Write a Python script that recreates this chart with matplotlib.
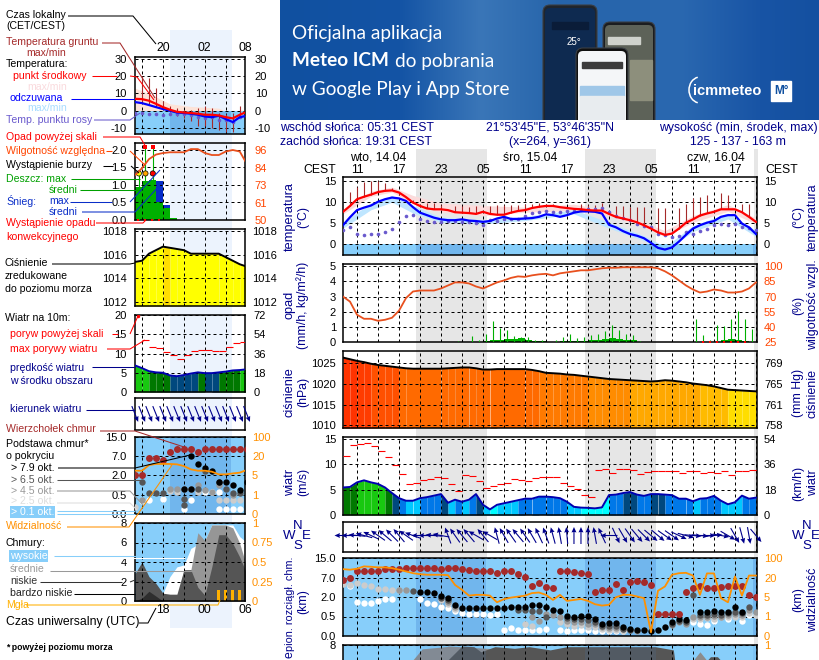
import matplotlib
matplotlib.use("Agg")
import matplotlib.pyplot as plt
import numpy as np
from matplotlib.patches import FancyBboxPatch, Rectangle, Arc

plt.rcParams['font.family'] = ['Liberation Sans', 'DejaVu Sans']

W, H = 820, 660
LS = 7.6   # labels of the left column
HS = 8.8   # header and side titles
TS = 8.0   # tick labels

NAVY = '#00008b'
RED = '#ff0000'
BROWN = '#a52a2a'
HUM = '#e8501e'
HUMTXT = '#ff4500'
ORANGE = '#ff9000'
SKY = '#87cefa'
NIGHT = '#3f7fd0'

### right block, hourly from 09:00 on 14.04 ###
temp_mid = [7.7, 9.1, 10.7, 11.3, 11.8, 12.4, 12.7, 12.8, 12.3, 11.2, 9.9, 9.1, 8.5, 8.3, 8.3, 8.1, 7.6, 7.5, 7.4, 7.2,
            7.7, 7.2, 7.0, 7.0, 7.5, 7.9, 8.1, 8.6, 8.9, 9.1, 9.1, 8.8, 8.6, 8.4, 8.3, 8.1, 8.0, 8.0, 7.2, 6.5,
            6.1, 5.7, 5.2, 4.5, 3.7, 2.8, 2.2, 2.5, 3.7, 5.1, 5.9, 6.8, 7.3, 7.7, 8.3, 8.3, 8.3, 7.6, 6.5, 5.3]
temp_feel = [4.5, 6.4, 8.1, 8.7, 9.2, 10.1, 10.7, 11.1, 10.9, 10.3, 8.8, 7.5, 6.9, 6.3, 5.9, 5.7, 5.7, 5.9, 5.6, 5.5,
             5.3, 5.5, 6.1, 6.5, 6.0, 6.0, 6.1, 6.2, 6.5, 7.1, 6.9, 6.5, 6.9, 7.5, 7.8, 7.8, 7.7, 7.3, 4.6, 4.0,
             3.1, 2.4, 2.0, 1.4, 0.3, -0.9, -1.3, -0.8, 0.6, 2.2, 3.7, 4.5, 5.1, 5.5, 6.5, 6.9, 6.9, 4.9, 4.0, 2.4]
temp_dew = [3.3, 4.0, 2.4, 2.1, 2.4, 2.4, 2.9, 3.5, 5.3, 6.8, 7.0, 6.0, 5.5, 5.3, 5.3, 5.6, 5.5, 5.3, 5.2, 5.1,
            4.6, 5.7, 5.6, 6.0, 6.0, 6.1, 6.7, 7.4, 7.7, 7.8, 7.7, 7.6, 8.0, 8.0, 8.1, 8.3, 8.3, 8.5, 7.6, 6.7,
            6.3, 5.7, 4.9, 4.3, 4.0, 2.5, 2.1, 1.6, 1.9, 2.8, 2.5, 3.1, 3.7, 4.5, 4.7, 4.6, 4.9, 4.1, 3.9, 3.3]
ground_max = [np.nan, 12.5, 13.5, 14.7, 15.0, 15.0, 14.5, 13.3, 11.7, np.nan, 10.5, np.nan, 9.7, 9.7, 9.3, np.nan, 9.0, 9.0, 8.8, 9.0,
              np.nan, 9.0, 9.3, 9.3, 9.4, 9.4, 9.6, 9.6, 9.7, 9.6, 9.5, np.nan, np.nan, np.nan, 9.5, 9.3, 9.3, 9.7, np.nan, 9.0,
              9.0, 8.8, 8.8, 8.8, np.nan, 8.5, 8.5, np.nan, 8.5, 9.6, 10.9, 11.3, 11.6, np.nan, 12.1, 11.7, np.nan, 9.6, 9.6, np.nan]
band_hours = [0, 4, 7, 10, 14, 20, 26, 33, 38, 43, 46, 50, 55, 59]
pink_hi = [8.3, 12.6, 13.6, 11.6, 9.8, 9.2, 8.8, 9.5, 8.0, 5.2, 3.2, 6.8, 9.4, 6.2]
pink_lo = [7.2, 11.4, 12.4, 9.6, 7.6, 6.8, 7.6, 8.0, 6.8, 4.0, 1.8, 5.2, 7.8, 4.8]
ice_hi = [5.2, 9.8, 11.6, 9.2, 6.4, 5.8, 6.6, 8.2, 5.2, 2.0, -0.6, 4.4, 7.4, 3.2]
ice_lo = [3.8, 8.2, 10.0, 7.4, 5.2, 4.8, 5.6, 7.2, 3.8, 0.8, -1.8, 3.0, 6.0, 1.8]

humidity = [70, 65, 52, 48, 48, 46, 47, 49, 56, 68.5, 75, 76, 76, 76, 78, 81, 84, 84, 83, 80,
            78, 81, 84, 86, 88.5, 90, 89.5, 91, 92, 92.5, 91, 93, 94, 95, 96, 96, 97, 98, 98.5, 98.5,
            99, 99, 99, 99, 99, 98, 95, 91, 86, 81, 77, 74, 75, 77, 76, 74, 74, 75, 78, 84]
rain_max = [0, 0, 0, 0, 0, 0, 0, 0, 0, 0, 0, 0, 0, 0, 0, 0, 0.05, 0, 0.4, 0.1,
            0.5, 1.4, 0.9, 0.8, 0.4, 0.35, 0.3, 0.15, 0.1, 0, 0.1, 0.35, 0.5, 0.25, 0.3, 0.45, 0.55, 0.75, 1.1, 0.8,
            0.5, 0.45, 0.05, 0, 0, 0, 0, 0, 0, 0, 1.5, 0.45, 0.1, 1.1, 1.05, 1.55, 2.05, 1.5, 0.85, 0]
rain_mean = [0, 0, 0, 0, 0, 0, 0, 0, 0, 0, 0, 0, 0, 0, 0, 0, 0, 0, 0, 0,
             0.05, 0.1, 0.1, 0.2, 0.2, 0.25, 0.1, 0.05, 0.05, 0.02, 0.03, 0.05, 0.08, 0.08, 0.08, 0.12, 0.15, 0.2, 0.25, 0.2,
             0.12, 0.1, 0.02, 0, 0, 0, 0, 0, 0, 0, 0, 0, 0, 0, 0.1, 0.18, 0.15, 0.05, 0, 0]
conv_hours = [51.5, 52.5, 53.5, 54.5, 55.5, 56.5, 57.5]

pressure = [1026.4, 1026.0, 1025.6, 1025.3, 1024.9, 1024.6, 1024.4, 1024.2, 1024.0, 1023.8, 1023.7, 1023.7, 1023.7, 1023.7, 1023.7, 1023.8, 1023.9, 1024.0, 1024.0, 1023.8,
            1023.5, 1023.5, 1023.6, 1023.6, 1023.6, 1023.6, 1023.6, 1023.4, 1023.1, 1022.7, 1022.6, 1022.5, 1022.3, 1022.2, 1022.0, 1021.8, 1021.6, 1021.4, 1021.2, 1021.1,
            1021.0, 1020.9, 1020.8, 1020.7, 1020.6, 1020.7, 1020.9, 1020.8, 1020.6, 1020.4, 1020.1, 1019.9, 1019.7, 1019.4, 1019.0, 1018.6, 1018.5, 1018.4, 1018.3, 1018.2]

wind = [5.4, 5.5, 6.4, 6.8, 6.4, 6.1, 5.4, 4.3, 3.3, 2.8, 2.8, 3.3, 3.5, 3.8, 4.1, 2.4, 3.0, 2.6, 3.0, 4.1,
        2.0, 1.1, 2.0, 2.3, 2.6, 2.9, 3.2, 3.2, 3.6, 3.6, 3.5, 3.3, 2.6, 1.6, 1.45, 1.4, 1.3, 1.5, 3.9, 4.0,
        4.3, 4.5, 4.0, 3.75, 4.1, 4.1, 4.0, 3.9, 3.2, 3.2, 2.7, 3.2, 3.3, 3.75, 2.8, 2.1, 2.5, 3.8, 3.2, 3.4]
gust = [11.5, 13.8, 13.9, 14.1, 13.6, 12.6, 11.3, 9.8, 8.0, 6.0, 6.2, 6.8, 7.1, 7.4, 7.2, 6.0, 4.7, 7.9, 7.6, 6.7,
        5.3, 5.6, 6.1, 6.3, 7.0, 6.8, 6.6, 7.2, 7.5, 7.4, 7.4, 6.3, 5.7, 5.1, 3.9, 3.6, 8.9, 9.1, 8.2, 9.1,
        9.1, 8.8, 8.1, 8.5, 8.7, 8.7, 8.7, 8.6, 8.3, 8.7, 8.7, 8.3, 8.4, 8.3, 8.7, 7.9, 8.7, 8.6, 8.8, 8.8]
wind_dir = [180, 180, 175, 165, 155, 145, 140, 135, 130, 145, 160, 180, 180, 175, 170, 110, 125, 130, 130, 150,
            130, 150, 105, 120, 125, 130, 125, 120, 115, 110, 105, 100, 95, 90, 90, 90, 100, 115, 180, 295,
            300, 305, 310, 315, 320, 320, 325, 325, 335, 345, 355, 355, 0, 5, 350, 330, 300, 285, 280, 310]

# cloud levels are in tick steps of the uneven scale (0.0, 0.5, 2.0, 7.0, 15.0)
top_lvl = [2.88, 3.0, 3.31, 3.34, 3.34, 3.31, 3.45, 3.45, 3.45, 3.48, 3.48, 3.48, 3.48, 3.48, 3.45, 3.48, 3.48, 3.45, 3.4, 3.34,
           3.31, 3.31, 3.24, 3.31, 3.31, 3.19, 3.02, 2.54, 2.74, 2.5, 2.45, 3.31, 3.31, 3.29, 3.24, 3.19, 2.28, 2.35, 2.37, 2.66,
           2.37, 2.76, 2.8, 2.76, 2.62, 1.11, 1.11, 1.11, 1.11, 2.28, 2.44, 2.56, 2.46, 2.46, 2.5, 2.56, 2.56, 2.56, 2.11, 2.02]
black_hours = list(range(11, 50)) + [51, 52, 53, 54, 55, 56, 57]
black_lvl = [2.25, 2.25, 2.2, 2.07, 1.94, 1.6, 1.42, 1.42, 1.42, 1.42, 1.42, 1.42, 1.42, 1.48, 1.48, 1.51, 1.58, 1.58, 1.5,
             1.34, 1.29, 1.05, 1.0, 1.05, 1.05, 0.87, 0.6, 0.65, 0.65, 0.45, 0.36, 0.31, 0.29, 0.26, 0.31, 0.46, 0.7, 0.87, 0.82,
             1.22, 1.22, 1.29, 1.22, 1.22, 1.51, 1.25]
dgray_hours = [10, 14, 15, 25, 26, 27, 28, 29, 32, 33, 34, 35, 36, 37, 38, 39, 40, 41, 47, 48, 49, 50, 51, 52, 53, 54, 55, 56, 57, 58]
dgray_lvl = [2.3, 1.95, 1.85, 1.35, 1.35, 1.3, 1.3, 1.0, 0.9, 0.85, 0.85, 0.8, 0.7, 0.5, 0.5, 0.5, 0.38, 0.32, 0.6, 0.75, 0.7, 2.11, 1.1, 1.1, 1.15, 1.1, 1.2, 1.25, 1.2, 1.5]
gray_hours = [8, 9, 15, 16, 27, 28, 29, 30, 31, 32, 33, 34, 35, 36, 37, 38, 39, 40, 41, 42, 47, 48, 49, 50, 51, 52, 53, 54, 55, 56, 57, 58, 59]
gray_lvl = [2.38, 2.36, 1.75, 1.5, 0.95, 0.75, 1.15, 1.1, 0.95, 0.75, 0.7, 0.7, 0.6, 0.6, 0.45, 0.42, 0.42, 0.36, 0.3, 0.28, 0.55, 0.7, 0.62, 1.0, 0.95, 1.0, 1.05, 1.0, 1.1, 1.15, 1.1, 1.35, 1.25]
lgray_hours = [0, 1, 2, 3, 4, 5, 6, 7, 8, 14, 15, 16, 26, 27, 31, 32, 33, 34, 35, 36, 37, 38, 39, 40, 50, 51, 52, 53, 54, 55, 56, 57, 58, 59]
lgray_lvl = [2.66, 2.6, 2.71, 2.62, 2.54, 2.42, 2.4, 2.38, 2.38, 1.85, 1.65, 1.4, 0.6, 0.5, 0.7, 0.6, 0.5, 0.55, 0.48, 0.48, 0.38, 0.33, 0.33, 0.28, 0.85, 0.85, 0.9, 0.85, 0.95, 1.0, 1.0, 1.0, 1.2, 1.1]
white_hours = [1, 2, 3, 4, 5, 6, 7, 11, 12, 13, 14, 15, 16, 17, 18, 19, 20, 21, 22, 23, 24, 25, 26, 27, 28, 29, 31, 32, 33, 34, 35, 36, 37, 38, 39, 40, 50, 51, 52, 53, 55, 57, 58, 59]
white_lvl = [2.58, 1.72, 1.68, 1.68, 1.77, 1.89, 1.91, 1.89, 1.68, 1.63, 1.51, 1.42, 1.29, 1.2, 1.15, 1.15, 1.11, 1.08, 1.15, 0.31, 0.39, 0.31, 0.31, 0.31, 0.31, 0.36, 0.31, 0.28, 0.31, 0.31, 0.31, 0.28, 0.28, 0.28, 0.28, 0.24, 0.74, 0.6, 0.57, 0.77, 0.87, 0.77, 1.08, 1.08]
visibility = [3.43, 3.4, 3.45, 3.57, 3.55, 3.52, 3.52, 3.48, 3.4, 3.31, 3.22, 3.17, 3.14, 3.14, 3.14, 3.12, 2.62, 2.37, 2.07, 2.11,
              2.11, 2.07, 1.73, 1.89, 1.97, 2.02, 2.07, 2.2, 2.23, 2.11, 1.85, 2.11, 1.8, 1.85, 1.9, 1.8, 1.63, 1.56, 1.6, 1.99,
              2.11, 2.11, 2.03, 1.94, 0.19, 2.32, 2.54, 3.14, 3.22, 3.24, 3.1, 2.11, 3.21, 3.21, 1.94, 1.73, 3.05, 2.07, 3.1, 3.1]

mid_cloud_hours = [9.9, 11.3, 14.9, 15.0, 50, 51, 52]
mid_cloud_lvl = [6.4, 7.6, 7.85, 7.9, 6.4, 7.3, 6.4]
low_cloud_hours = [14.9, 17, 18.7, 19.7, 21.7, 24.5, 26.6, 29.6, 32, 40, 44.6, 47.2, 47.4, 52, 52.5, 53.5, 54]
low_cloud_lvl = [6.4, 7.9, 7.83, 7.3, 7.83, 7.66, 7.83, 7.5, 7.83, 7.83, 7.83, 7.5, 6.4, 6.4, 6.8, 6.8, 6.4]

### left block, legend meteogram ###
l_temp_mid = [6.9, 6.7, 5.8, 4.0, 2.1, 0.6, -0.6, -1.0, -1.3, -1.7, -2.3, -2.3, -2.7, -3.7, -4.4, -2.3, -0.6]
l_temp_feel = [5.0, 4.4, 3.3, 2.1, 1.0, 0.0, -1.0, -1.3, -1.7, -2.3, -3.3, -3.7, -2.9, -4.8, -6.5, -3.7, -2.9]
l_temp_dew = [-1.3, -1.3, -1.7, -2.1, -2.5, -1.7, -1.7, -2.1, -2.5, -3.7, -4.2, -3.7, -5.2, -5.6, -6.7, -3.7, -3.0]
l_ground_max = [np.nan, 20, 18.8, 13, 5.4, 2.5, 1.5, 0.6, 0.5, 1.5, 2.5, 1.5, -1.3, -2.0, -1.3, 2.9, np.nan]
l_ground_min = [np.nan, 5, 4, 2, 1, -1, -3, -4, -6, -9, -9, -10, -11, -12, -12, -3, np.nan]
l_band_hours = [0, 2, 4, 5, 8, 12, 14, 15, 16]
l_pink_hi = [13, 10, 6, 4, 2.5, 1.5, -2, 0.6, 0]
l_humidity = [79.5, 84, 90, 93, 94, 94.5, 94.5, 94.5, 96.6, 96.6, 94, 92.7, 92.7, 95, 96, 95, 87]
l_rain_mean = [0.93, 1.1, 1.15, 0.52, 0.33, 0.05]
l_snow_mean = [0, 0, 0, 1.1, 0.43, 0]
l_storm_colors = ['#ffff00', '#ffa500', '#ff0000']
l_pressure = [1015.4, 1015.5, 1016.1, 1016.4, 1016.7, 1016.6, 1016.5, 1016.4, 1016.1, 1016.1, 1016.1, 1016.1, 1016.1, 1015.8, 1015.5, 1015.2, 1015.0]
l_wind = [6.9, 6.2, 5.4, 5.1, 5.0, 4.3, 4.1, 4.4, 4.8, 5.1, 4.9, 4.9, 5.1, 5.3, 5.6, 5.7, 5.9]
l_gust = [np.nan, 13.4, 11.6, 11.3, 10.4, 9.6, 8.7, 9.7, 10.6, 10.8, 10.8, 10.6, 10.6, 11.6, 12.7, 12.9]
l_top = [2.0, 2.0, 2.88, 2.88, 2.8, 3.22, 3.34, 3.34, 3.34, 3.22, 3.34, 3.34, 3.34, 3.34, 3.34, 3.34, 3.34]
l_black_hours = [7, 8, 8, 9, 10, 11, 12, 13, 14, 15, 16]
l_black_lvl = [1.28, 1.28, 3.0, 2.59, 2.36, 2.24, 1.67, 1.67, 1.5, 1.24, 1.67]
l_dgray_hours = [1, 2, 3, 4, 7, 7, 9, 10, 12, 13, 14, 15]
l_dgray_lvl = [1.67, 1.1, 1.1, 1.1, 0.76, 0.47, 1.28, 2.2, 1.67, 1.28, 1.1, 1.07]
l_gray_hours = [1, 5, 6, 7, 8, 9, 10, 11, 12, 14]
l_gray_lvl = [0.72, 1.28, 1.28, 1.28, 1.28, 1.5, 1.24, 1.15, 1.5, 1.0]
l_lgray_hours = [0, 5, 6, 9, 12, 13, 14, 15]
l_lgray_lvl = [0.38, 1.2, 1.15, 1.15, 0.72, 0.72, 0.72, 0.72]
l_white_hours = [1, 2, 4, 7, 8, 10, 11, 12, 12, 13, 14, 15]
l_white_lvl = [0.69, 0.72, 0.76, 0.24, 0.72, 1.15, 1.15, 1.15, 0.24, 0.24, 0.24, 0.24]
l_visibility = [2.24, 2.24, 2.53, 2.59, 2.59, 2.59, 2.57, 2.48, 2.31, 2.24, 2.24, 2.19, 2.05, 2.05, 2.1, 2.14, 2.28]
l_high = [0, 0, 0, 0, 0.8, 2.5, 3.5, 3.7, 5.4, 5.8, 6.2, 7.8, 7.8, 7.8, 7.8, 6.6, 6.0]
l_medium = [0, 0, 0, 0, 0, 0, 0, 3.2, 3.2, 7.0, 6.2, 7.8, 7.8, 7.8, 7.5, 5.9, 3.5]
l_low = [2.8, 4.0, 2.5, 1.8, 0.8, 0.7, 0.7, 3.2, 3.2, 1.4, 0.6, 3.5, 6.8, 6.8, 5.9, 4.5, 2.8]
l_vlow = [0, 0.3, 1.0, 0.5, 0, 0, 0, 0, 0, 0, 0, 0, 0, 0, 0, 0, 0]
l_fog_hours = [12.0, 13.0, 14.0, 15.0]
l_fog = [1.15, 1.15, 1.15, 1.15]


def px_axes(x0, y0, x1, y1):
    ax = fig.add_axes([x0 / W, 1 - y1 / H, (x1 - x0) / W, (y1 - y0) / H])
    ax.patch.set_alpha(0)
    for s in ax.spines.values():
        s.set_linewidth(1.1)
    return ax


def setup(ax, xlim, xgrid, ylim, yticks, ylabels, rticks=None, rlabels=None, rlim=None, rcolor='black', pad=5, rpad=5):
    ax.set_xlim(*xlim)
    ax.set_ylim(*ylim)
    ax.set_xticks(xgrid)
    ax.set_xticklabels([])
    ax.set_yticks(yticks)
    ax.set_yticklabels(ylabels, fontsize=TS)
    ax.tick_params(length=0, pad=pad)
    ax.set_axisbelow(False)
    ax.grid(True, color='black', linestyle=(0, (3, 3)), linewidth=0.72)
    if rticks is None:
        return None
    ax2 = ax.twinx()
    ax2.patch.set_alpha(0)
    ax2.set_ylim(*(rlim if rlim else ylim))
    ax2.set_yticks(rticks)
    ax2.set_yticklabels(rlabels, fontsize=TS, color=rcolor)
    ax2.tick_params(length=0, pad=rpad)
    for s in ax2.spines.values():
        s.set_visible(False)
    return ax2


def pressure_color(v):
    steps = [1016.7, 1019, 1020, 1021, 1022, 1023.3, 1024.2, 1025, 1026]
    cols = ['#ffff00', '#ffde00', '#ffbb00', '#ffa800', '#ff8c00', '#ff7a00', '#ff6a00', '#ff5000', '#ff3c00', '#ff3300']
    return cols[np.digitize(v, steps)]


def wind_color(v):
    steps = [1.6, 2.9, 4.05, 5.0, 5.65]
    cols = ['#00ffff', '#00c8ff', '#0078e8', '#00487e', '#007800', '#18c810']
    return cols[np.digitize(v, steps)]


def step_fill(ax, vals, colorfn, base):
    for i in range(len(vals) - 1):
        ax.fill_between([i, i + 1], [vals[i], vals[i + 1]], base, color=colorfn(vals[i]), linewidth=0, antialiased=False, zorder=1)


def draw_temp(ax, mid, feel, dew, hours):
    ax.plot(hours, dew, 'o', color='#6a5acd', ms=2.6, mew=0, zorder=3)
    ax.plot(hours, feel, color='#0000ff', lw=1.6, zorder=4)
    ax.plot(hours, mid, color=RED, lw=1.6, zorder=5)


def draw_base(ax, sets, top_x, top, vis_x, vis):
    ax.set_facecolor(SKY)
    ax.patch.set_alpha(1)
    for (xs, ys, col) in sets:
        ax.plot(xs, ys, 'o', color=col, ms=4.6, mew=0, zorder=3)
    ax.plot(top_x, top, 'o', color=BROWN, ms=5, mew=0, zorder=3)
    ax.plot(vis_x, vis, color=ORANGE, lw=1.3, zorder=5)


def arrows(ax, hours, angles, y):
    rad = np.radians(angles)
    ax.quiver(hours, np.full(len(hours), y), 17 * np.cos(rad), 17 * np.sin(rad), angles='uv', scale=1, scale_units='dots',
              units='dots', width=1.1, headwidth=4.5, headlength=5, headaxislength=4.5, pivot='mid', color=NAVY, clip_on=False, zorder=4)


fig = plt.figure(figsize=(W / 100, H / 100), dpi=100, facecolor='white')

### backgrounds ###
bg = fig.add_axes([0, 0, 1, 1], zorder=-1)
bg.set_xlim(0, W)
bg.set_ylim(H, 0)
bg.axis('off')
bg.add_patch(Rectangle((170, 30), 62, 598, color='#ecf3fd', lw=0))
for x0, x1 in [(416, 487), (585, 656), (754, 758)]:
    bg.add_patch(Rectangle((x0, 149), x1 - x0, 511, color='#e6e6e6', lw=0))

### banner ###
ban = fig.add_axes([280 / W, 1 - 120 / H, 540 / W, 120 / H])
ban.set_xlim(280, 820)
ban.set_ylim(120, 0)
ban.axis('off')
grad_x = [280, 400, 480, 560, 680, 760, 820]
grad_r = [16, 20, 58, 38, 42, 24, 20]
grad_g = [80, 84, 118, 100, 104, 84, 80]
grad_b = [160, 165, 184, 170, 176, 165, 160]
xs = np.arange(280, 820)
grad = np.stack([np.interp(xs, grad_x, c) for c in (grad_r, grad_g, grad_b)], axis=-1)[None, :, :] / 255
ban.imshow(grad, extent=(280, 820, 120, 0), aspect='auto', zorder=0)
ban.text(292, 33, 'Oficjalna aplikacja', color='white', family='Lato', fontsize=13.7, va='center')
ban.text(292, 61, 'Meteo ICM', color='white', family='Lato', weight='bold', fontsize=13.7, va='center')
ban.text(395, 61, 'do pobrania', color='white', family='Lato', fontsize=13.7, va='center')
ban.text(292, 89, 'w Google Play i App Store', color='white', family='Lato', fontsize=13.7, va='center')
for x, y, w, face, inner in [(543, 5, 54, '#20252c', '#0e2a50'), (603, 22, 52, '#1b1d20', '#5d6258'), (576, 48, 52, '#101010', '#f4f6f8')]:
    ban.add_patch(FancyBboxPatch((x + 3, y + 3), w - 6, 140, boxstyle='round,pad=3,rounding_size=7', fc=face, ec='#3a3f45', lw=0.8, zorder=2))
    ban.add_patch(FancyBboxPatch((x + 3, y + 4), w - 6, 140, boxstyle='round,pad=1,rounding_size=5', fc=inner, ec='none', zorder=2))
ban.add_patch(Rectangle((552, 22), 36, 7, color='#0a1c38', zorder=2.5))
ban.add_patch(Rectangle((608, 37), 32, 7, color='#cfd2cc', zorder=2.5))
ban.add_patch(Rectangle((630, 60), 22, 40, color='#8d8f7c', zorder=2.5))
ban.add_patch(Rectangle((582, 62), 40, 6, color='#3c3c3c', zorder=3))
ban.add_patch(Rectangle((580, 86), 44, 10, color='#9fc7e8', zorder=3))
ban.add_patch(Rectangle((580, 96), 44, 24, color='#e8ecef', zorder=3))
ban.text(574, 42, '25°', color='white', fontsize=7, ha='center', va='center', zorder=3)
ban.add_patch(Arc((700, 90), 22, 26, theta1=100, theta2=260, color='white', lw=1.1, zorder=3))
ban.text(693, 91, 'icmmeteo', color='white', family='Liberation Sans', weight='bold', fontsize=10.5, va='center', zorder=3)
ban.add_patch(Rectangle((771, 81), 20, 20, color='white', zorder=3))
ban.text(781, 91, 'M°', color='#1050a0', weight='bold', fontsize=8.5, ha='center', va='center', zorder=4)

### right block panels ###
r_hours = np.arange(60)
r_xlim = (0, 59.15)
r_grid = list(range(2, 60, 3))
r_tick_labels = ['11', '', '17', '', '23', '', '05', '', '11', '', '17', '', '23', '', '05', '', '11', '', '17', '']

ax = px_axes(343, 177, 757, 255)
setup(ax, r_xlim, r_grid, (-2.6, 16), [0, 5, 10, 15], ['0', '5', '10', '15'], [0, 5, 10, 15], ['0', '5', '10', '15'])
ax.xaxis.tick_top()
ax.set_xticklabels(r_tick_labels, fontsize=HS)
ax.tick_params(axis='x', pad=1, length=0)
ax.fill_between(band_hours, pink_lo, pink_hi, color='#fbdcdc', lw=0, zorder=1)
ax.fill_between(band_hours, ice_lo, ice_hi, color='#bfe6ff', lw=0, zorder=1)
ax.axhspan(-2.6, 0, color=SKY, lw=0, zorder=1)
for x0, x1 in [(10.4, 20.5), (34.6, 44.7), (58.6, 59.15)]:
    ax.axvspan(x0, x1, ymax=2.6 / 18.6, color=NIGHT, alpha=0.3, lw=0, zorder=1.5)
ax.vlines(r_hours, temp_mid, ground_max, color=BROWN, lw=0.8, zorder=3)
draw_temp(ax, temp_mid, temp_feel, temp_dew, r_hours)

ax = px_axes(343, 264, 757, 342)
ax2 = setup(ax, r_xlim, r_grid, (0, 5.15), [0, 1, 2, 3, 4, 5], ['0', '1', '2', '3', '4', '5'],
            [25, 40, 55, 70, 85, 100], ['25', '40', '55', '70', '85', '100'], (25, 102.25), HUMTXT)
ax.bar(r_hours + 0.5, rain_mean, width=1, color='#00b000', lw=0, zorder=1)
ax.vlines(r_hours + 0.5, 0, rain_max, color='#00b000', lw=0.8, zorder=3)
ax.plot(conv_hours, np.zeros(len(conv_hours)), 's', color=RED, ms=2, mew=0, clip_on=False, zorder=6)
ax2.plot(r_hours, humidity, color=HUM, lw=1.3)

ax = px_axes(343, 351, 757, 428)
setup(ax, r_xlim, r_grid, (1009.3, 1028), [1010, 1015, 1020, 1025], ['1010', '1015', '1020', '1025'],
      [1010, 1015, 1020, 1025], ['758', '761', '765', '769'])
step_fill(ax, pressure, pressure_color, 1009.3)
ax.plot(r_hours, pressure, color='black', lw=1.4, zorder=4)

ax = px_axes(343, 437, 757, 515)
setup(ax, r_xlim, r_grid, (0, 15.3), [0, 5, 10, 15], ['0', '5', '10', '15'], [0, 5, 10, 15], ['0', '18', '36', '54'])
step_fill(ax, wind, wind_color, 0)
ax.plot(r_hours, wind, color='#0000b0', lw=1.4, zorder=4)
ax.hlines(gust, r_hours, r_hours + 1, color=RED, lw=0.8, zorder=4)

ax = px_axes(343, 522, 757, 552)
setup(ax, r_xlim, r_grid, (0, 1), [], [])
ax.grid(False, axis='y')
arrows(ax, r_hours, wind_dir, 0.55)

ax = px_axes(343, 558, 757, 636)
setup(ax, r_xlim, r_grid, (0, 4), [0, 1, 2, 3, 4], ['0.0', '0.5', '2.0', '7.0', '15.0'], [0, 1, 2, 3, 4], ['0', '1', '5', '20', '100'], rcolor=ORANGE)
for x0, x1 in [(10.4, 20.5), (34.6, 44.7), (58.6, 59.15)]:
    ax.axvspan(x0, x1, color=NIGHT, alpha=0.3, lw=0, zorder=1)
draw_base(ax, [(white_hours, white_lvl, 'white'), (lgray_hours, lgray_lvl, '#cccccc'), (gray_hours, gray_lvl, '#999999'),
               (dgray_hours, dgray_lvl, '#555555'), (black_hours, black_lvl, 'black')], r_hours, top_lvl, r_hours, visibility)

# clouds panel, only its top edge fits in the picture
ax = px_axes(343, 645, 757, 660)
setup(ax, r_xlim, r_grid, (6.46, 8), [8], ['8'], [8], ['1'], rcolor=ORANGE)
ax.set_facecolor(SKY)
ax.patch.set_alpha(1)
ax.fill_between(mid_cloud_hours, 6.46, mid_cloud_lvl, color='#8c8c8c', lw=0, zorder=1)
ax.fill_between(low_cloud_hours, 6.46, low_cloud_lvl, color='#555555', lw=0, zorder=1)
ax.spines['bottom'].set_visible(False)
for x0, x1 in [(10.4, 20.5), (34.6, 44.7), (58.6, 59.15)]:
    ax.axvspan(x0, x1, color=NIGHT, alpha=0.12, lw=0, zorder=1.2)

### left block panels ###
l_hours = np.arange(17)
l_xlim = (0, 15.75)
l_grid = [1, 4, 7, 10, 13]

ax = px_axes(135, 57, 245, 134)
setup(ax, l_xlim, l_grid, (-13.4, 31), [-10, 0, 10, 20, 30], ['-10', '0', '10', '20', '30'], [-10, 0, 10, 20, 30],
      ['-10', '0', '10', '20', '30'], pad=6, rpad=7)
ax.fill_between(l_band_hours, -5, l_pink_hi, color='#fde3d8', lw=0, zorder=1)
ax.axhspan(-13.4, 0, color=SKY, lw=0, zorder=1)
ax.axvspan(5, 13.8, ymax=13.4 / 44.4, color=NIGHT, alpha=0.3, lw=0, zorder=1.5)
ax.vlines(l_hours, l_ground_min, l_ground_max, color=BROWN, lw=0.8, zorder=3)
draw_temp(ax, l_temp_mid, l_temp_feel, l_temp_dew, l_hours)

ax = px_axes(135, 143, 245, 220)
ax2 = setup(ax, l_xlim, l_grid, (0, 2.2), [0, 0.5, 1, 1.5, 2], ['0.0', '0.5', '1.0', '1.5', '2.0'],
            [50, 61, 73, 84, 96], ['50', '61', '73', '84', '96'], (50, 100.6), HUMTXT, pad=6, rpad=7)
ax.bar(np.arange(6) + 0.5, l_snow_mean, width=1, color='#0a2ec8', lw=0, zorder=1)
ax.bar(np.arange(6) + 0.5, l_rain_mean, width=1, color='#00b000', lw=0, zorder=1.2)
ax.vlines([0.55, 1.5, 2.55], 0, [1.33, 2.09, 2.09], color='#00b000', lw=0.8, zorder=3)
ax.plot([1.5, 2.55], [2.09, 2.09], 's', color=RED, ms=2.6, mew=0, zorder=6)
ax.scatter([0.55, 1.5, 2.55], [1.33, 1.33, 1.33], c=l_storm_colors, edgecolors='black', s=14, lw=0.5, zorder=6)
ax.plot([0.5, 1.5, 2.5, 3.5], [0, 0, 0, 0], 's', color=RED, ms=1.6, mew=0, clip_on=False, zorder=6)
ax2.plot(l_hours, l_humidity, color=HUM, lw=1.3)

ax = px_axes(135, 229, 245, 306)
setup(ax, l_xlim, l_grid, (1011.65, 1018.2), [1012, 1014, 1016, 1018], ['1012', '1014', '1016', '1018'], [1012, 1014, 1016, 1018],
      ['1012', '1014', '1016', '1018'], pad=6, rpad=5)
step_fill(ax, l_pressure, pressure_color, 1011.65)
ax.plot(l_hours, l_pressure, color='black', lw=1.4, zorder=4)

ax = px_axes(135, 315, 245, 392)
setup(ax, l_xlim, l_grid, (0, 20), [0, 5, 10, 15, 20], ['0', '5', '10', '15', '20'], [0, 5, 10, 15, 20], ['0', '18', '36', '54', '72'], pad=6, rpad=6)
step_fill(ax, l_wind, wind_color, 0)
ax.plot(l_hours, l_wind, color='#0000b0', lw=1.4, zorder=4)
ax.hlines(l_gust, np.arange(16), np.arange(16) + 1, color=RED, lw=0.8, zorder=4)
ax.plot([0.5], [19.8], 'o', color=RED, ms=2.5, mew=0, zorder=5)

ax = px_axes(135, 398, 245, 430)
setup(ax, l_xlim, l_grid, (0, 1), [], [])
ax.grid(False, axis='y')
arrows(ax, l_hours, [292] * 17, 0.5)

ax = px_axes(135, 436.7, 245, 514)
setup(ax, l_xlim, l_grid, (0, 4), [0, 1, 2, 3, 4], ['0.0', '0.5', '2.0', '7.0', '15.0'], [0, 1, 2, 3, 4], ['0', '1', '5', '20', '100'], rcolor=ORANGE, pad=6, rpad=5)
ax.axvspan(5, 13.8, color=NIGHT, alpha=0.3, lw=0, zorder=1)
draw_base(ax, [(l_white_hours, l_white_lvl, 'white'), (l_lgray_hours, l_lgray_lvl, '#cccccc'), (l_gray_hours, l_gray_lvl, '#999999'),
               (l_dgray_hours, l_dgray_lvl, '#555555'), (l_black_hours, l_black_lvl, 'black')], l_hours, l_top, l_hours, l_visibility)

ax = px_axes(135, 523, 245, 601)
setup(ax, l_xlim, l_grid, (0, 8), [0, 2, 4, 6, 8], ['0', '2', '4', '6', '8'], [0, 2, 4, 6, 8], ['0', '0.25', '0.5', '0.75', '1'], rcolor=ORANGE, pad=6, rpad=5)
ax.set_facecolor(SKY)
ax.patch.set_alpha(1)
ax.fill_between(l_hours, 0, l_high, color='white', lw=0, zorder=1)
ax.fill_between(l_hours, 0, l_medium, color='#969696', lw=0, zorder=1.1)
ax.fill_between(l_hours, 0, l_low, color='#555555', lw=0, zorder=1.2)
ax.fill_between(l_hours, 0, l_vlow, color='#2e2e2e', lw=0, zorder=1.3)
ax.bar(l_fog_hours, l_fog, width=0.42, color='#ffb000', lw=0, zorder=2)

### texts and leader lines ###
ov = fig.add_axes([0, 0, 1, 1], zorder=10)
ov.set_xlim(0, W)
ov.set_ylim(H, 0)
ov.axis('off')
ov.patch.set_alpha(0)


def t(x, y, s, color='black', **kw):
    kw.setdefault('fontsize', LS)
    kw.setdefault('va', 'center')
    ov.text(x, y, s, color=color, **kw)


def lead(xs, ys, color='black', lw=0.75):
    ov.plot(xs, ys, color=color, lw=lw, solid_capstyle='butt')


# header
t(280, 128, 'wschód słońca: 05:31 CEST', NAVY, fontsize=HS)
t(280, 142, 'zachód słońca: 19:31 CEST', NAVY, fontsize=HS)
t(550, 128, "21°53'45''E, 53°46'35''N", NAVY, ha='center', fontsize=HS)
t(550, 142, '(x=264, y=361)', NAVY, ha='center', fontsize=HS)
t(818, 128, 'wysokość (min, środek, max)', NAVY, ha='right', fontsize=HS)
t(738, 142, '125 - 137 - 163 m', NAVY, ha='center', fontsize=HS)
t(378, 158, 'wto, 14.04', ha='center', fontsize=HS)
t(530, 158, 'śro, 15.04', ha='center', fontsize=HS)
t(716, 158, 'czw, 16.04', ha='center', fontsize=HS)
t(336, 170, 'CEST', ha='right', fontsize=HS)
t(765, 170, 'CEST', fontsize=HS)

# side titles of the right block
side = [(217, 'temperatura', '(°C)', '(°C)', 'temperatura', 217),
        (305, 'opad', '(mm/h, kg/m²/h)', '(%)', 'wilgotność wzgl.', 305),
        (392, 'ciśnienie', '(hPa)', '(mm Hg)', 'ciśnienie', 393),
        (482, 'wiatr', '(m/s)', '(km/h)', 'wiatr', 483)]
for yl, a, b, c, d, yr in side:
    t(290, yl, a, NAVY, rotation=90, ha='center', fontsize=9.2)
    t(303, yl, b, NAVY, rotation=90, ha='center', fontsize=8.8)
    t(798, yr, c, NAVY, rotation=90, ha='center', fontsize=8.8)
    t(813, yr, d, NAVY, rotation=90, ha='center', fontsize=9.0)
t(290, 604, 'pion. rozciągł. chm.', NAVY, rotation=90, ha='center', fontsize=7.8)
t(303, 602, '(km)', NAVY, rotation=90, ha='center', fontsize=8.8)
t(798, 600, '(km)', NAVY, rotation=90, ha='center', fontsize=8.8)
t(813, 600, 'widzialność', NAVY, rotation=90, ha='center', fontsize=9.0)
t(290, 655, 'e', NAVY, rotation=90, ha='center', fontsize=8.8)
for x0 in (289, 798):
    t(x0, 536, 'W', NAVY, ha='center', fontsize=9.5)
    t(x0 + 9, 526, 'N', NAVY, ha='center', fontsize=9.5)
    t(x0 + 17, 536, 'E', NAVY, ha='center', fontsize=9.5)
    t(x0 + 9, 546, 'S', NAVY, ha='center', fontsize=9.5)

# time labels of the left block
for x, s in [(163, '20'), (204, '02'), (245, '08')]:
    t(x, 48, s, ha='center', fontsize=HS)
for x, s in [(163, '18'), (204, '00'), (245, '06')]:
    t(x, 610, s, ha='center', fontsize=HS)

t(6, 15, 'Czas lokalny')
t(6, 26, '(CET/CEST)')
lead([68, 133, 156], [16, 16, 44])
t(6, 42, 'Temperatura gruntu', BROWN)
t(46, 53, 'max/min', BROWN, ha='center')
lead([102, 120, 155], [43, 43, 98], BROWN)
t(6, 64, 'Temperatura:')
t(13, 76, 'punkt środkowy', RED)
lead([92, 117], [76, 76], RED)
lead([130, 137, 154], [76, 77, 100], RED)
t(47, 87, 'max/min', '#fadadd', ha='center')
t(10, 98, 'odczuwana', '#0000ff')
lead([71, 134], [99, 99], '#0000ff')
t(47, 108, 'max/min', '#a8dcff', ha='center')
t(6, 120, 'Temp. punktu rosy', '#6a5acd')
lead([94, 130, 140], [120, 120, 113], '#6a5acd')
t(6, 137, 'Opad powyżej skali', RED)
lead([103, 140, 146], [137, 137, 147], RED)
t(6, 151, 'Wilgotność względna', HUMTXT)
lead([106, 112], [151, 151], HUMTXT)
lead([130, 145], [151, 165], HUMTXT)
t(6, 165, 'Wystąpienie burzy')
lead([103, 113], [166, 166])
lead([131, 139], [166, 173])
t(6, 179, 'Deszcz: max', '#00a000')
lead([71, 140], [179, 179], '#00a000')
t(49, 190, 'średni', '#00a000')
lead([80, 140], [190, 190], '#00a000')
t(6, 201, 'Śnieg:', '#0a2ec8')
t(49, 201, 'max', '#0a2ec8')
lead([70, 112], [202, 202], '#0a2ec8')
lead([130, 160], [202, 170], '#0a2ec8')
t(49, 212, 'średni', '#0a2ec8')
lead([82, 135, 160], [212, 212, 185], '#0a2ec8')
t(6, 223, 'Wystąpienie opadu', RED)
t(6, 237, 'konwekcyjnego', RED)
lead([96, 143, 146], [223, 223, 220], RED)
t(5, 263, 'Ciśnienie')
lead([52, 130, 135], [264, 264, 263])
t(5, 276, 'zredukowane')
t(5, 289, 'do poziomu morza')
t(5, 318, 'Wiatr na 10m:')
t(10, 334, 'poryw powyżej skali', RED)
lead([112, 118], [334, 334], RED)
lead([130, 138], [334, 316], RED)
t(10, 349, 'max porywy wiatru', RED)
lead([107, 130, 145], [349, 349, 340], RED)
t(10, 368, 'prędkość wiatru', NAVY)
lead([92, 135], [367, 367], NAVY)
t(10, 381, 'w środku obszaru', NAVY)
t(10, 409, 'kierunek wiatru', NAVY)
lead([86, 135], [410, 410], NAVY)
t(6, 429, 'Wierzchołek chmur', BROWN)
lead([100, 135, 184], [431, 431, 447], BROWN)
t(6, 444, 'Podstawa chmur*')
t(6, 456, 'o pokryciu')
t(11, 468, '> 7.9 okt.')
lead([58, 135, 190], [468, 468, 455])
t(11, 480, '> 6.5 okt.', '#555555')
lead([57, 143], [480, 480], '#555555')
t(11, 491, '> 4.5 okt.', '#999999')
lead([57, 130, 143], [491, 491, 505], '#999999')
t(11, 501, '> 2.5 okt.', '#dddddd')
lead([57, 130, 137], [503, 503, 510], '#dddddd')
t(11, 512, '> 0.1 okt.', 'white', bbox=dict(fc=SKY, ec='none', pad=0.5))
lead([57, 135], [511, 511], SKY)
lead([57, 135], [514, 514], SKY)
t(6, 526, 'Widzialność', ORANGE)
lead([67, 129, 172], [527, 527, 465], ORANGE)
t(6, 543, 'Chmury:')
t(10, 556, 'wysokie', 'white', bbox=dict(fc=SKY, ec='none', pad=0.5))
lead([54, 185], [556, 556], SKY)
lead([54, 185], [558, 558], 'white')
t(10, 569, 'średnie', '#999999')
lead([50, 195], [571, 571], '#999999')
t(10, 581, 'niskie', '#333333')
lead([40, 122], [582, 582], '#333333')
lead([130, 135], [582, 580], '#333333')
t(10, 593, 'bardzo niskie', '#222222')
lead([74, 135], [594, 594])
t(6, 605, 'Mgła', '#ffb000')
lead([26, 218, 220], [605, 605, 600], '#ffb000')
t(6, 622, 'Czas uniwersalny (UTC)', fontsize=8.8)
lead([139, 148, 156], [623, 623, 608])
t(6, 648, '* powyżej poziomu morza', fontsize=6.3, weight='bold')

fig.savefig('out.png', dpi=100)
